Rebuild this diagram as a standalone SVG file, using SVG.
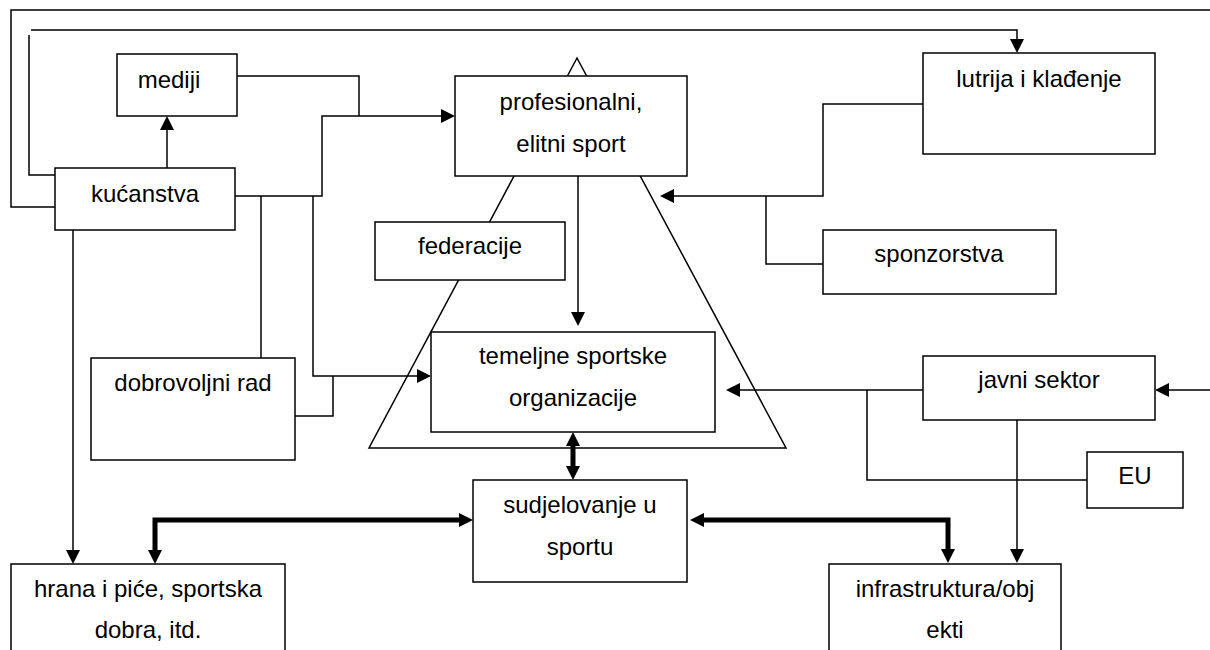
<svg xmlns="http://www.w3.org/2000/svg" width="1210" height="650" viewBox="0 0 1210 650">
  <style>
    .box { fill: #ffffff; stroke: #000000; stroke-width: 1.5; }
    .tri { fill: #ffffff; stroke: #000000; stroke-width: 1.5; }
    .ln { fill: none; stroke: #000000; stroke-width: 1.5; }
    .thick { fill: none; stroke: #000000; stroke-width: 5; stroke-linejoin: miter; }
    .lbl { font-family: "Liberation Sans", Arial, sans-serif; font-size: 24px; fill: #000000; text-anchor: middle; }
  </style>
  <defs>
    <marker id="arr" markerUnits="userSpaceOnUse" markerWidth="16" markerHeight="16" refX="1" refY="7" orient="auto-start-reverse">
      <path d="M0,0 L14,7 L0,14 Z" fill="#000000"/>
    </marker>
  </defs>
  <rect width="1210" height="650" fill="#ffffff"/>

  <g id="pyramid">
    <polygon class="tri" points="577,58 369,448 786,448"/>
  </g>

  <g id="nodes">
    <g id="mediji">
      <rect class="box" x="117" y="54" width="120" height="62"/>
      <text class="lbl" x="169" y="88">mediji</text>
    </g>
    <g id="kucanstva">
      <rect class="box" x="55" y="168" width="180" height="62"/>
      <text class="lbl" x="145" y="202">kućanstva</text>
    </g>
    <g id="profesionalni">
      <rect class="box" x="455" y="76" width="232" height="100"/>
      <text class="lbl" x="571" y="110">profesionalni,</text>
      <text class="lbl" x="571" y="152">elitni sport</text>
    </g>
    <g id="lutrija">
      <rect class="box" x="923" y="53" width="232" height="101"/>
      <text class="lbl" x="1039" y="87">lutrija i klađenje</text>
    </g>
    <g id="federacije">
      <rect class="box" x="375" y="222" width="190" height="58"/>
      <text class="lbl" x="470" y="254">federacije</text>
    </g>
    <g id="sponzorstva">
      <rect class="box" x="823" y="230" width="233" height="64"/>
      <text class="lbl" x="939" y="262">sponzorstva</text>
    </g>
    <g id="dobrovoljni">
      <rect class="box" x="91" y="358" width="204" height="102"/>
      <text class="lbl" x="193" y="391">dobrovoljni rad</text>
    </g>
    <g id="temeljne">
      <rect class="box" x="431" y="332" width="284" height="100"/>
      <text class="lbl" x="573" y="364">temeljne sportske</text>
      <text class="lbl" x="573" y="406">organizacije</text>
    </g>
    <g id="javni">
      <rect class="box" x="923" y="356" width="232" height="64"/>
      <text class="lbl" x="1039" y="388">javni sektor</text>
    </g>
    <g id="eu">
      <rect class="box" x="1087" y="452" width="96" height="56"/>
      <text class="lbl" x="1135" y="484">EU</text>
    </g>
    <g id="sudjelovanje">
      <rect class="box" x="473" y="480" width="214" height="102"/>
      <text class="lbl" x="580" y="513">sudjelovanje u</text>
      <text class="lbl" x="580" y="555">sportu</text>
    </g>
    <g id="hrana">
      <rect class="box" x="11" y="564" width="274" height="100"/>
      <text class="lbl" x="148" y="597">hrana i piće, sportska</text>
      <text class="lbl" x="148" y="638">dobra, itd.</text>
    </g>
    <g id="infrastruktura">
      <rect class="box" x="829" y="564" width="232" height="100"/>
      <text class="lbl" x="945" y="597">infrastruktura/obj</text>
      <text class="lbl" x="945" y="638">ekti</text>
    </g>
  </g>

  <g id="connectors">
    <polyline class="ln" points="55,207 11,207 11,10 1210,10"/>
    <polyline class="ln" points="55,175 29,175 29,35"/>
    <polyline class="ln" points="31,30 1017,30 1017,40" marker-end="url(#arr)"/>
    <line class="ln" x1="167" y1="168" x2="167" y2="129" marker-end="url(#arr)"/>
    <polyline class="ln" points="237,76 359,76 359,116"/>
    <polyline class="ln" points="235,196 322,196 322,116 442,116" marker-end="url(#arr)"/>
    <line class="ln" x1="261" y1="196" x2="261" y2="358"/>
    <polyline class="ln" points="313,196 313,376 418,376" marker-end="url(#arr)"/>
    <polyline class="ln" points="295,416 333,416 333,376"/>
    <line class="ln" x1="73" y1="230" x2="73" y2="551" marker-end="url(#arr)"/>
    <line class="ln" x1="578" y1="176" x2="578" y2="313" marker-end="url(#arr)"/>
    <polyline class="ln" points="923,104 823,104 823,196 673,196" marker-end="url(#arr)"/>
    <polyline class="ln" points="766,196 766,264 823,264"/>
    <line class="ln" x1="923" y1="390" x2="739" y2="390" marker-end="url(#arr)"/>
    <polyline class="ln" points="867,390 867,480 1087,480"/>
    <line class="ln" x1="1017" y1="420" x2="1017" y2="550" marker-end="url(#arr)"/>
    <line class="ln" x1="1210" y1="390" x2="1168" y2="390" marker-end="url(#arr)"/>
    <polyline class="thick" points="155,551 155,520 460,520" marker-start="url(#arr)" marker-end="url(#arr)"/>
    <polyline class="thick" points="703,520 948,520 948,550" marker-start="url(#arr)" marker-end="url(#arr)"/>
    <line class="thick" x1="573" y1="445" x2="573" y2="467" marker-start="url(#arr)" marker-end="url(#arr)"/>
  </g>
</svg>
